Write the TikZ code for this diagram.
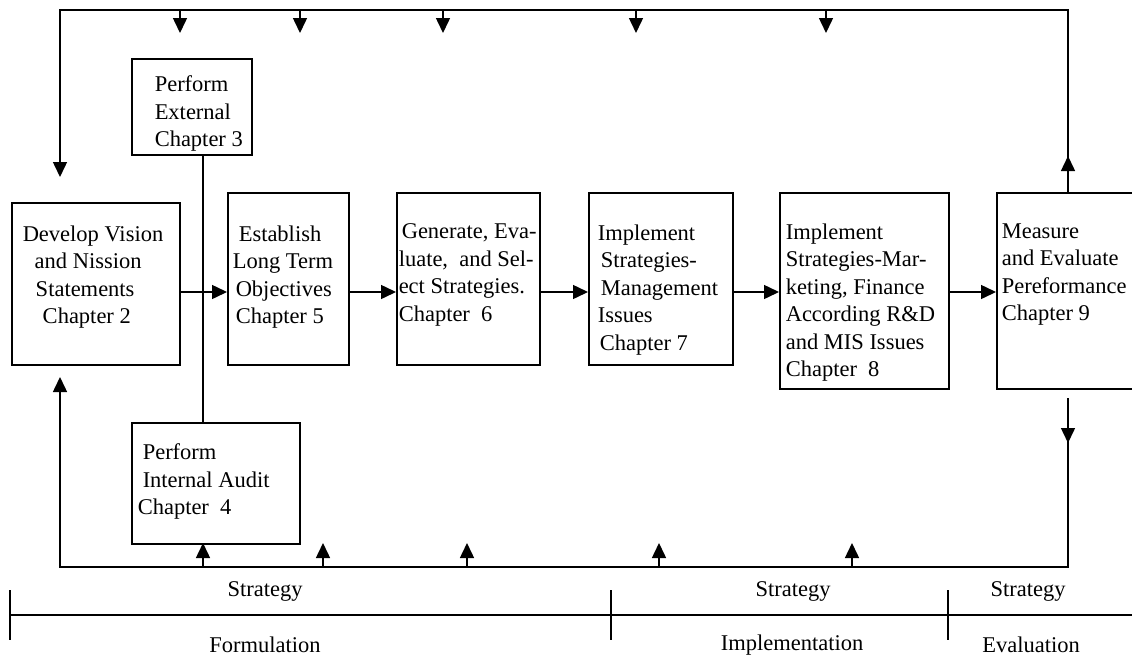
\documentclass[tikz,border=0pt]{standalone}
\usepackage{fontspec}
\setmainfont{Liberation Serif}
\usetikzlibrary{arrows.meta}
\begin{document}
\begin{tikzpicture}[x=1pt,y=-1pt,line width=1.5pt,
  box/.style={draw,anchor=north west,inner sep=0pt},
  txt/.style={anchor=north west,inner sep=0pt,align=left,font=\fontsize{22.5}{27.5}\selectfont},
  lbl/.style={inner sep=0pt,font=\fontsize{22.5}{27.5}\selectfont},
  arr/.style={-{Triangle[length=15pt,width=14pt]}}]
\useasboundingbox (0,0) rectangle (1132,659);
% boxes
\node[box,minimum width=168pt,minimum height=162pt] (vision) at (11,202) {};
\node[box,minimum width=120pt,minimum height=96pt] (extern) at (131,58) {};
\node[box,minimum width=168pt,minimum height=121pt] (intern) at (131,422) {};
\node[box,minimum width=121pt,minimum height=172pt] (goals) at (227,192) {};
\node[box,minimum width=143pt,minimum height=172pt] (select) at (396,192) {};
\node[box,minimum width=144pt,minimum height=172pt] (mgmt) at (588,192) {};
\node[box,minimum width=169pt,minimum height=196pt] (mkt) at (779,192) {};
\node[box,minimum width=150pt,minimum height=196pt] (measure) at (996,192) {};
% texts
\node[txt] (visiont) at (22,225) {Develop Vision\\\hspace*{12pt}and Nission\\\hspace*{13pt}Statements\\\hspace*{20pt}Chapter 2};
\node[txt] (externt) at (154,75) {Perform\\External\\Chapter 3};
\node[txt] (internt) at (142,443) {Perform\\Internal Audit\\\hspace*{-5pt}Chapter\ \ 4};
\node[txt] (goalst) at (232,225) {\hspace*{6pt}Establish\\Long Term\\\hspace*{3pt}Objectives\\\hspace*{3pt}Chapter 5};
\node[txt] (selectt) at (398,223) {\hspace*{3pt}Generate, Eva-\\luate,\ \ and Sel-\\ect Strategies.\\Chapter\ \ 6};
\node[txt] (mgmtt) at (597,224) {Implement\\\hspace*{3pt}Strategies-\\\hspace*{3pt}Management\\Issues\\\hspace*{2pt}Chapter 7};
\node[txt] (mktt) at (785,223) {Implement\\Strategies-Mar-\\keting, Finance\\According R\&D\\and MIS Issues\\Chapter\ \ 8};
\node[txt] (measuret) at (1001,223) {Measure\\and Evaluate\\Pereformance\\Chapter 9};
% main flow
\coordinate (row) at (0,292);
\draw[arr] (vision.east |- row) -- (goals.west |- row);
\draw[arr] (goals.east |- row) -- (select.west |- row);
\draw[arr] (select.east |- row) -- (mgmt.west |- row);
\draw[arr] (mgmt.east |- row) -- (mkt.west |- row);
\draw[arr] (mkt.east |- row) -- (measure.west |- row);
% feedback loops
\coordinate (tr) at (1068,10);
\coordinate (tl) at (60,10);
\coordinate (br) at (1068,567);
\coordinate (bl) at (60,567);
\coordinate (vtop) at (60,177);
\coordinate (vbot) at (60,377);
\coordinate (mbot) at (1068,398);
\draw[arr] (measure.north -| tr) -- (tr) -- (tl) -- (vtop);
\draw[arr] (measure.north -| tr) -- ++(0,-36);
\draw[arr] (mbot) -- (br) -- (bl) -- (vbot);
\draw[arr] (mbot) -- ++(0,45);
\foreach \x/\n in {180/1,300/2,443/3,636/4,826/5}{
  \coordinate (t\n) at (\x,10);
  \draw[arr] (t\n) -- ++(0,23);
}
\foreach \x/\n in {203/1,323/2,467/3,659/4,852/5}{
  \coordinate (b\n) at (\x,567);
  \draw[arr] (b\n) -- ++(0,-24);
}
\draw (extern.south -| b1) -- (intern.north -| b1);
% time line
\draw (10,615) -- (1132,615);
\foreach \x in {10,611,948}
  \draw (\x,590) -- (\x,640);
\node[lbl] (strat1) at (265,591) {Strategy};
\node[lbl] (strat2) at (793,591) {Strategy};
\node[lbl] (strat3) at (1028,591) {Strategy};
\node[lbl] (formul) at (265,645) {Formulation};
\node[lbl] (implem) at (792,645) {Implementation};
\node[lbl] (evalu) at (1031,645) {Evaluation};
\end{tikzpicture}
\end{document}
